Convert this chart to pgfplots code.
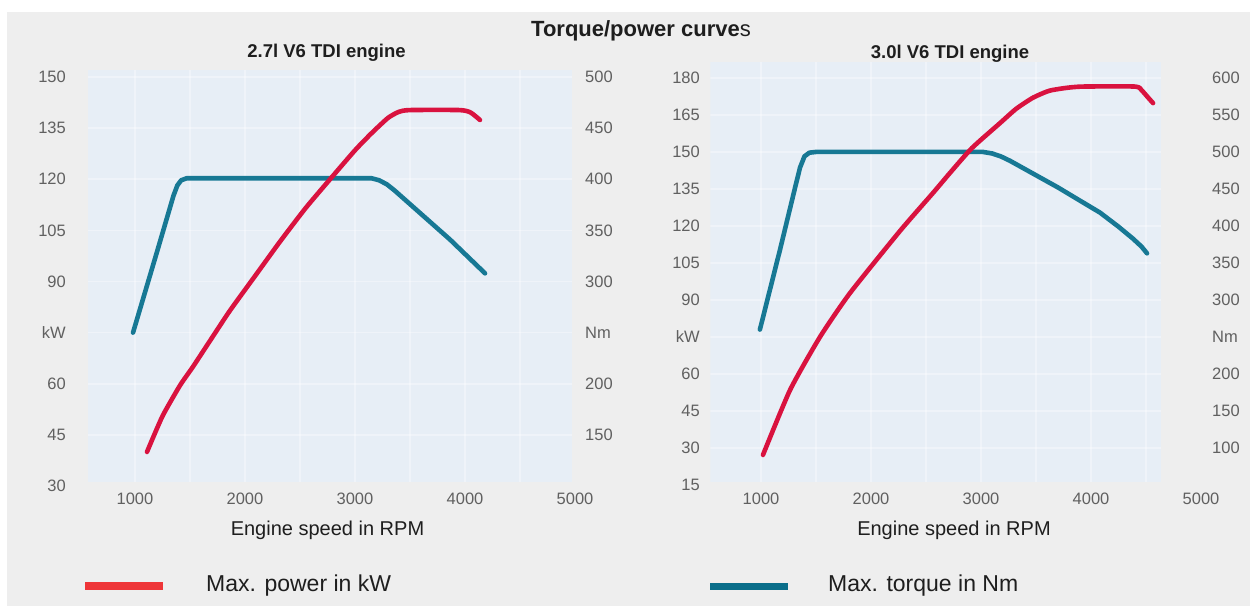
\documentclass[border=0pt]{standalone}
\usepackage{fontspec}
\setmainfont{Liberation Sans}
\usepackage{pgfplots}
\pgfplotsset{compat=1.18}
\definecolor{bgray}{HTML}{EEEEEE}
\definecolor{pbg}{HTML}{E7EEF6}
\definecolor{redc}{HTML}{D9123F}
\definecolor{tealc}{HTML}{177894}
\definecolor{legred}{HTML}{EE3538}
\definecolor{legteal}{HTML}{0A6E8A}
\definecolor{tickc}{HTML}{606060}
\definecolor{txt}{HTML}{1E1E1E}

\tikzset{gridl/.style={white, opacity=0.35, line width=1.6bp}}
\pgfplotsset{
  panel/.style={
    scale only axis, anchor=south west,
    axis line style={draw=none},
    major tick length=0pt, tick style={draw=none},
    /pgf/number format/assume math mode=true,
    ticklabel style={font=\fontsize{16.5bp}{18bp}\selectfont, text=tickc, inner sep=0pt},
  },
  curve/.style={line width=4.6bp, line join=round, line cap=round},
}

\begin{document}
\begin{tikzpicture}
\useasboundingbox (0,0) rectangle (1254bp,609bp);
\fill[white] (0,0) rectangle (1254bp,609bp);
\fill[bgray] (7bp,3bp) rectangle (1250bp,597bp);

% titles
\node[anchor=base, text=txt, font=\fontsize{22bp}{24bp}\selectfont] at (641bp,572bp) {\textbf{Torque/power curve}s};
\node[anchor=base, text=txt, font=\bfseries\fontsize{18.5bp}{20bp}\selectfont] at (326.5bp,551bp) {2.7l V6 TDI engine};
\node[anchor=base, text=txt, font=\bfseries\fontsize{18.5bp}{20bp}\selectfont] at (950bp,550bp) {3.0l V6 TDI engine};

% ---------------- left panel: torque (Nm) -----------------
\begin{axis}[panel, at={(87.7bp,123bp)}, width=487.3bp, height=415.8bp,
  xmin=570, xmax=5000, ymin=100, ymax=506.67,
  hide x axis, yticklabel pos=right,
  ytick={150,200,250,300,350,400,450,500},
  yticklabels={150,200,Nm,300,350,400,450,500},
  yticklabel style={anchor=west, xshift=10bp}]
\fill[pbg] (axis cs:570,103.9) rectangle (axis cs:4970,506.67);
\pgfplotsinvokeforeach{1000,1500,2000,2500,3000,3500,4000,4500}{\draw[gridl] (axis cs:#1,103.9) -- (axis cs:#1,506.67);}
\pgfplotsinvokeforeach{150,200,250,300,350,400,450,500}{\draw[gridl] (axis cs:570,#1) -- (axis cs:4970,#1);}
\addplot[curve, tealc] coordinates {
 (982,250) (1200,329) (1350,384) (1385,394) (1420,399) (1470,401) (3150,401)
 (3220,399) (3290,395) (3360,389) (3864,341) (4182,308)};
\end{axis}

% ---------------- left panel: power (kW) -----------------
\begin{axis}[panel, at={(87.7bp,123bp)}, width=487.3bp, height=415.8bp,
  xmin=570, xmax=5000, ymin=30, ymax=152,
  xtick={1000,2000,3000,4000,5000},
  xticklabels={1000,2000,3000,4000,5000},
  xticklabel style={anchor=north, yshift=-7bp},
  ytick={30,45,60,75,90,105,120,135,150},
  yticklabels={30,45,60,kW,90,105,120,135,150},
  yticklabel style={anchor=east, xshift=-21.7bp}]
\addplot[curve, redc, smooth, tension=0.35] coordinates {
 (1109,40.0) (1250,50.5) (1409,59.5) (1527,65.0) (1700,73.5) (1864,81.5)
 (2100,92.0) (2318,101.7) (2550,111.5) (2773,120.0) (3000,128.5) (3150,133.5)
 (3300,138.0) (3400,139.8) (3500,140.3) (3950,140.3) (4050,139.6) (4136,137.4)};
\end{axis}

% ---------------- right panel: torque (Nm) -----------------
\begin{axis}[panel, at={(710.4bp,124bp)}, width=490.6bp, height=423.1bp,
  xmin=540, xmax=5000, ymin=50, ymax=621.67,
  hide x axis, yticklabel pos=right,
  ytick={100,150,200,250,300,350,400,450,500,550,600},
  yticklabels={100,150,200,Nm,300,350,400,450,500,550,600},
  yticklabel style={anchor=west, xshift=11bp}]
\fill[pbg] (axis cs:540,54) rectangle (axis cs:4640,621.67);
\pgfplotsinvokeforeach{1000,1500,2000,2500,3000,3500,4000,4500}{\draw[gridl] (axis cs:#1,54) -- (axis cs:#1,621.67);}
\pgfplotsinvokeforeach{100,150,200,250,300,350,400,450,500,550,600}{\draw[gridl] (axis cs:540,#1) -- (axis cs:4640,#1);}
\addplot[curve, tealc] coordinates {
 (990,260) (1173,368) (1315,455) (1355,479) (1395,494) (1440,499) (1500,500) (3018,500)
 (3100,498) (3180,494) (3264,488) (3700,452) (4082,418) (4250,399) (4380,383) (4460,372) (4509,363)};
\end{axis}

% ---------------- right panel: power (kW) -----------------
\begin{axis}[panel, at={(710.4bp,124bp)}, width=490.6bp, height=423.1bp,
  xmin=540, xmax=5000, ymin=15, ymax=186.5,
  xtick={1000,2000,3000,4000,5000},
  xticklabels={1000,2000,3000,4000,5000},
  xticklabel style={anchor=north, yshift=-8bp},
  ytick={15,30,45,60,75,90,105,120,135,150,165,180},
  yticklabels={15,30,45,60,kW,90,105,120,135,150,165,180},
  yticklabel style={anchor=east, xshift=-10.4bp}]
\addplot[curve, redc, smooth, tension=0.35] coordinates {
 (1018,27.2) (1264,53.5) (1536,75.0) (1809,92.8) (2264,118.0) (2564,133.4)
 (2718,141.5) (2918,151.6) (3173,161.7) (3320,167.5) (3473,172.0) (3620,174.8) (3782,176.0) (3927,176.5)
 (4400,176.5) (4460,175.0) (4520,172.0) (4564,169.8)};
\end{axis}

% axis titles
\node[anchor=base, text=txt, font=\fontsize{20bp}{22bp}\selectfont] at (327.5bp,73bp) {Engine speed in RPM};
\node[anchor=base, text=txt, font=\fontsize{20bp}{22bp}\selectfont] at (954bp,73bp) {Engine speed in RPM};

% legend
\draw[legred, line width=7.3bp] (85bp,23bp) -- (163bp,23bp);
\node[anchor=base west, inner sep=0pt, text=txt, font=\fontsize{23bp}{25bp}\selectfont] at (206bp,18bp) {Max. power in kW};
\draw[legteal, line width=7.3bp] (710bp,22.3bp) -- (788bp,22.3bp);
\node[anchor=base west, inner sep=0pt, text=txt, font=\fontsize{23bp}{25bp}\selectfont] at (828bp,18bp) {Max. torque in Nm};
\end{tikzpicture}
\end{document}
